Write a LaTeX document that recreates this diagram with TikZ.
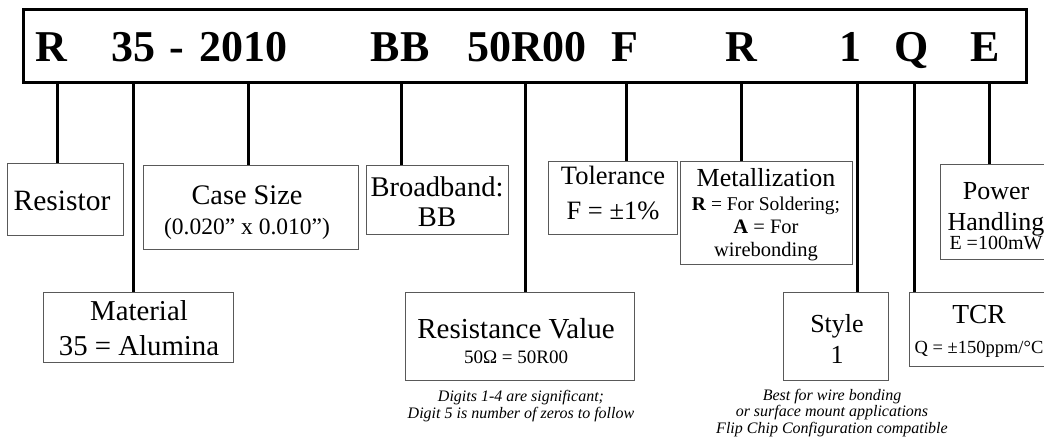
\documentclass[tikz,border=0pt]{standalone}
\usepackage{fontspec}
\setmainfont{Liberation Serif}
\usetikzlibrary{positioning}

\begin{document}
\begin{tikzpicture}[x=1pt,y=-1pt]
\tikzset{
  codebar/.style={draw=black,line width=3pt,inner sep=0pt},
  codetok/.style={font=\fontsize{44}{44}\selectfont\bfseries,anchor=base,inner sep=0pt},
  labelbox/.style={draw=black!65,line width=1pt,inner sep=0pt},
  boxtext/.style={align=center,anchor=base,inner sep=0pt},
  leader/.style={draw=black,line width=3pt},
  notetext/.style={align=center,anchor=base,inner sep=0pt,font=\fontsize{16}{16.5}\selectfont\itshape}
}
\useasboundingbox (0,0) rectangle (1044,438);
\clip (0,0) rectangle (1044,438);
% part number bar
\node[codebar,minimum width=1003,minimum height=73] (n_bar) at (524.5,46) {};
\node[codetok] (t_R) at (51,62) {R};
\node[codetok] (t_35) at (133.5,62) {35};
\node[codetok] (t_dash) at (177,62) {-};
\node[codetok] (t_2010) at (243.5,62) {2010};
\node[codetok] (t_BB) at (400,62) {BB};
\node[codetok] (t_50R00) at (527,62) {50R00};
\node[codetok] (t_F) at (625,62) {F};
\node[codetok] (t_M) at (741,62) {R};
\node[codetok] (t_1) at (850,62) {1};
\node[codetok] (t_Q) at (912,62) {Q};
\node[codetok] (t_E) at (985,62) {E};
% label boxes
\node[labelbox,minimum width=116,minimum height=72] (b_Resistor) at (65,200) {};
\node[labelbox,minimum width=215,minimum height=84] (b_Case) at (250.5,208) {};
\node[labelbox,minimum width=142,minimum height=69] (b_Broad) at (437,200.5) {};
\node[labelbox,minimum width=190,minimum height=69] (b_Material) at (138,327.5) {};
\node[labelbox,minimum width=229,minimum height=87] (b_Value) at (519.5,336.5) {};
\node[labelbox,minimum width=129,minimum height=73] (b_Tol) at (612.5,198.5) {};
\node[labelbox,minimum width=172,minimum height=103] (b_Metal) at (766,213.5) {};
\node[labelbox,minimum width=105,minimum height=87] (b_Style) at (835.5,336.5) {};
\node[labelbox,minimum width=141,minimum height=73] (b_TCR) at (979.5,329.5) {};
\node[labelbox,minimum width=112,minimum height=95] (b_Power) at (996,212.5) {};
% box texts (placed at the baseline of their last line)
\node[boxtext,font=\fontsize{29.5}{30}\selectfont] (x_Resistor) at (62,211) {Resistor};
\node[boxtext,font=\fontsize{28.3}{30}\selectfont] (x_Case) at (247,235) {Case Size\\{\fontsize{23.5}{30}\selectfont (0.020” x 0.010”)}};
\node[boxtext,font=\fontsize{28.5}{30}\selectfont] (x_Broad) at (437,227) {Broadband:\\BB};
\node[boxtext,font=\fontsize{28.8}{30}\selectfont] (x_Material) at (139,355) {Material\\[5pt]35 = Alumina};
\node[boxtext,font=\fontsize{29}{30}\selectfont] (x_Value) at (516,363) {Resistance Value\\[-5pt]{\fontsize{19}{20}\selectfont 50Ω = 50R00}};
\node[boxtext,font=\fontsize{26.5}{30}\selectfont] (x_Tol) at (613,220) {Tolerance\\[5pt]F = ±1\%};
\node[boxtext,font=\fontsize{26}{24}\selectfont] (x_Metal) at (766,257) {Metallization\\{\fontsize{19.5}{23}\selectfont\textbf{R} = For Soldering;}\\[-1pt]{\fontsize{20.5}{23}\selectfont\textbf{A} = For}\\[-1pt]{\fontsize{20.5}{23}\selectfont wirebonding}};
\node[boxtext,font=\fontsize{26}{31}\selectfont] (x_Style) at (837,363) {Style\\1};
\node[boxtext,font=\fontsize{27.5}{30}\selectfont] (x_TCR) at (979,353) {TCR\\{\fontsize{18.5}{20}\selectfont Q = ±150ppm/°C}};
\node[boxtext,font=\fontsize{26}{31}\selectfont] (x_Power) at (996,250) {Power\\Handling\\[-12pt]{\fontsize{20}{20}\selectfont E =100mW}};
% leader lines
\coordinate (c_R) at (57,82);
\coordinate (c_35) at (133,82);
\coordinate (c_2010) at (248,82);
\coordinate (c_BB) at (401,82);
\coordinate (c_50R00) at (525,82);
\coordinate (c_F) at (626,82);
\coordinate (c_M) at (741,82);
\coordinate (c_1) at (857,82);
\coordinate (c_Q) at (914,82);
\coordinate (c_E) at (989,82);
\draw[leader] (c_R) -- (c_R |- b_Resistor.north);
\draw[leader] (c_35) -- (c_35 |- b_Material.north);
\draw[leader] (c_2010) -- (c_2010 |- b_Case.north);
\draw[leader] (c_BB) -- (c_BB |- b_Broad.north);
\draw[leader] (c_50R00) -- (c_50R00 |- b_Value.north);
\draw[leader] (c_F) -- (c_F |- b_Tol.north);
\draw[leader] (c_M) -- (c_M |- b_Metal.north);
\draw[leader] (c_1) -- (c_1 |- b_Style.north);
\draw[leader] (c_Q) -- (c_Q |- b_TCR.north);
\draw[leader] (c_E) -- (c_E |- b_Power.north);
% notes
\node[notetext] (n_digits) at (521,418) {Digits 1-4 are significant;\\Digit 5 is number of zeros to follow};
\node[notetext] (n_style) at (832,433) {Best for wire bonding\\or surface mount applications\\Flip Chip Configuration compatible};
\end{tikzpicture}
\end{document}
